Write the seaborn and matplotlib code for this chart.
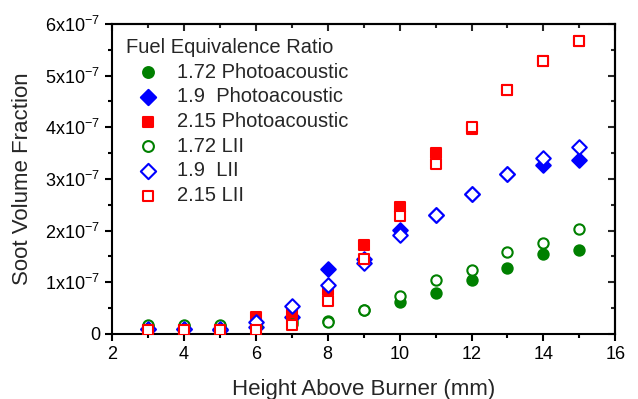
import numpy as np
import pandas as pd
import matplotlib
matplotlib.use('Agg')
import matplotlib.pyplot as plt
import seaborn as sns
from matplotlib.ticker import MultipleLocator, FuncFormatter

# heights above burner (mm)
height = [3, 4, 5, 6, 7, 8, 9, 10, 11, 12, 13, 14, 15]

# soot volume fraction, units of 1e-7
pa_172 = [0.15, 0.16, 0.16, 0.15, 0.25, 0.26, 0.46, 0.61, 0.80, 1.04, 1.27, 1.55, 1.63]
pa_190 = [0.09, 0.09, 0.08, 0.14, 0.32, 1.26, 1.46, 2.01, 2.30, 2.71, 3.09, 3.27, 3.37]
pa_215 = [0.07, 0.08, 0.08, 0.33, 0.40, 0.85, 1.73, 2.46, 3.51, 3.97, 4.73, 5.28, 5.67]
lii_172 = [0.17, 0.18, 0.18, 0.15, 0.19, 0.24, 0.46, 0.73, 1.04, 1.24, 1.59, 1.77, 2.03]
lii_190 = [0.09, 0.09, 0.09, 0.23, 0.55, 0.95, 1.38, 1.91, 2.30, 2.71, 3.09, 3.41, 3.62]
lii_215 = [0.07, 0.08, 0.08, 0.08, 0.17, 0.64, 1.45, 2.28, 3.29, 4.00, 4.73, 5.28, 5.67]

series = [
    ('1.72 Photoacoustic', pa_172, 'o', '#008000', True),
    ('1.9  Photoacoustic', pa_190, 'D', '#0000ff', True),
    ('2.15 Photoacoustic', pa_215, 's', '#ff0000', True),
    ('1.72 LII', lii_172, 'o', '#008000', False),
    ('1.9  LII', lii_190, 'D', '#0000ff', False),
    ('2.15 LII', lii_215, 's', '#ff0000', False),
]

sns.set_style('ticks')
plt.rcParams['font.family'] = ['Liberation Sans', 'DejaVu Sans']
plt.rcParams['mathtext.fontset'] = 'custom'
plt.rcParams['mathtext.rm'] = 'Liberation Sans'

fig = plt.figure(figsize=(6.38, 3.99), dpi=100)
ax = fig.add_axes([0.1755, 0.163, 0.789, 0.777])

sizes = {'o': 55, 'D': 55, 's': 48}
for label, vals, mk, col, filled in series:
    df = pd.DataFrame({'h': height, 'fv': np.array(vals) * 1e-7})
    sns.scatterplot(data=df, x='h', y='fv', ax=ax, marker=mk, s=sizes[mk],
                    color=col if filled else 'white', edgecolor=col,
                    linewidth=1.5, label=label, zorder=3 if filled else 4)

ax.set_xlim(2, 16)
ax.set_ylim(0, 6e-7)
ax.xaxis.set_major_locator(MultipleLocator(2))
ax.xaxis.set_minor_locator(MultipleLocator(1))
ax.yaxis.set_major_locator(MultipleLocator(1e-7))
ax.yaxis.set_minor_locator(MultipleLocator(0.5e-7))

def fmt(v, pos):
    n = int(round(v / 1e-7))
    if n == 0:
        return '0'
    return r'$\mathregular{%dx10^{-7}}$' % n

ax.yaxis.set_major_formatter(FuncFormatter(fmt))

for s in ax.spines.values():
    s.set_linewidth(1.5)
    s.set_color('black')
ax.tick_params(which='both', direction='out', width=1.5, labelsize=13, colors='black')
ax.tick_params(which='major', length=5)
ax.tick_params(which='minor', length=3)
# inward ticks on top and right
ax2 = ax.secondary_xaxis('top')
ax2.set_xticks(np.arange(2, 17, 2))
ax2.xaxis.set_minor_locator(MultipleLocator(1))
ax2.tick_params(which='both', direction='in', width=1.5, labeltop=False)
ax2.tick_params(which='major', length=5)
ax2.tick_params(which='minor', length=3)
ax3 = ax.secondary_yaxis('right')
ax3.yaxis.set_major_locator(MultipleLocator(1e-7))
ax3.yaxis.set_minor_locator(MultipleLocator(0.5e-7))
ax3.tick_params(which='both', direction='in', width=1.5, labelright=False)
ax3.tick_params(which='major', length=5)
ax3.tick_params(which='minor', length=3)
for a in (ax2, ax3):
    for s in a.spines.values():
        s.set_linewidth(1.5)

ax.set_xlabel('Height Above Burner (mm)', fontsize=16, labelpad=12)
ax.set_ylabel('Soot Volume Fraction', fontsize=16, labelpad=9)

leg = ax.legend(title='Fuel Equivalence Ratio', loc='upper left', frameon=False,
                fontsize=14.5, title_fontsize=14.5, handlelength=2.2, handletextpad=0.35,
                borderaxespad=0.1, labelspacing=0.28, borderpad=0.6, markerscale=1.05)
leg._legend_box.align = 'left'

fig.savefig('out.png', dpi=100)
